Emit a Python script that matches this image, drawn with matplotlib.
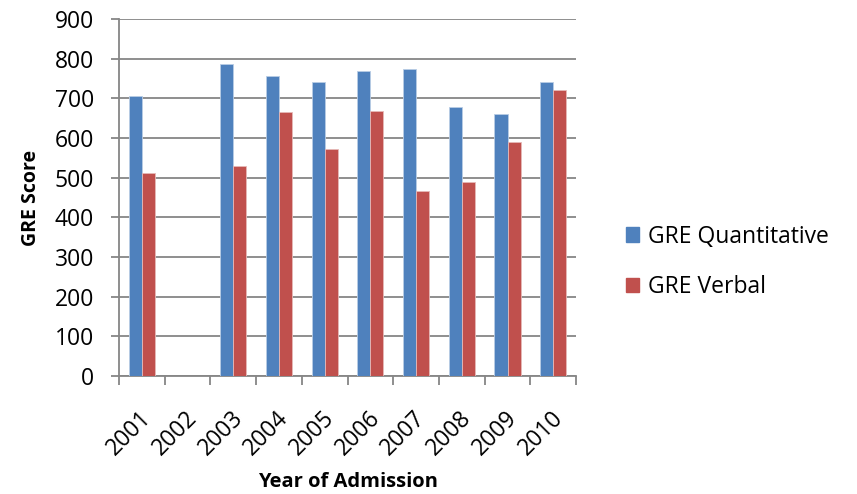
import numpy as np
import matplotlib.pyplot as plt
from matplotlib.patches import Patch
from matplotlib.transforms import ScaledTranslation

plt.rcParams['font.family'] = ['Open Sans', 'DejaVu Sans']

years = ['2001', '2002', '2003', '2004', '2005', '2006', '2007', '2008', '2009', '2010']
gre_quant = [705, np.nan, 787, 755, 740, 769, 775, 678, 660, 740]
gre_verbal = [512, np.nan, 530, 665, 571, 669, 467, 490, 590, 720]

blue = '#4F81BD'
red = '#C0504D'
grey = '#868686'

fig = plt.figure(figsize=(8.57, 4.94), dpi=100)
ax = fig.add_axes([0.1389, 0.2389, 0.5333, 0.7227])

x = np.arange(len(years))
w = 0.285
ax.bar(x - w/2, gre_quant, w, color=blue, edgecolor='#B9CDE5', linewidth=0.6, zorder=3)
ax.bar(x + w/2, gre_verbal, w, color=red, edgecolor='#E6B9B8', linewidth=0.6, zorder=3)

ax.set_xlim(-0.5, len(years) - 0.5)
ax.set_ylim(0, 900)
ax.set_yticks(range(0, 901, 100))
ax.yaxis.grid(True, color=grey, linewidth=1.3, zorder=0)

# year labels at the middle, tick marks between the years
ax.set_xticks(x)
ax.set_xticklabels(years, rotation=45, ha='right', va='center', rotation_mode='anchor', fontsize=16.5)
ax.tick_params(axis='x', length=0, pad=28)
shift = ScaledTranslation(0.06, 0, fig.dpi_scale_trans)
for lab in ax.get_xticklabels():
    lab.set_transform(lab.get_transform() + shift)
ax.set_xticks(np.arange(-0.5, len(years)), minor=True)
ax.tick_params(axis='x', which='minor', length=6.5, color=grey, width=1.3)
ax.tick_params(axis='y', labelsize=16.5, length=6, color=grey, width=1.3, pad=12)

for s in ['top', 'right']:
    ax.spines[s].set_visible(False)
for s in ['left', 'bottom']:
    ax.spines[s].set_color(grey)
    ax.spines[s].set_linewidth(1.3)

ax.set_xlabel('Year of Admission', fontsize=14.5, fontweight='bold', labelpad=8.5)
ax.set_ylabel('GRE Score', fontsize=14, fontweight='bold', labelpad=10)

handles = [Patch(color=blue, label='GRE Quantitative'), Patch(color=red, label='GRE Verbal')]
fig.legend(handles=handles, loc='center left', bbox_to_anchor=(0.7305, 0.4697), frameon=False,
           fontsize=16.5, handlelength=0.57, handleheight=0.61, labelspacing=1.15,
           handletextpad=0.39, borderpad=0, borderaxespad=0)

fig.savefig('out.png', dpi=100)
